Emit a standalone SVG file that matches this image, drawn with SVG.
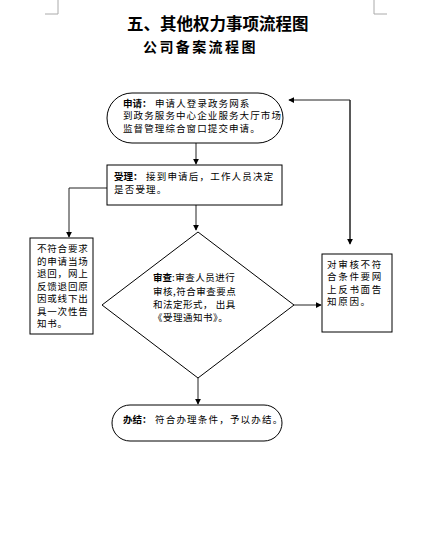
<svg xmlns="http://www.w3.org/2000/svg" width="427" height="545" viewBox="0 0 427 545">
<style>
.t{font-family:"Noto Sans CJK SC","Liberation Sans",sans-serif;font-size:9.5px;fill:#000}
.b{font-weight:bold}
.shape{fill:#fff;stroke:#000;stroke-width:1}
.con{fill:none;stroke:#222;stroke-width:1}
.mark{fill:none;stroke:#aaa;stroke-width:1}
</style>
<defs>
<marker id="ah" viewBox="0 0 8 8" refX="7" refY="4" markerWidth="6" markerHeight="6" orient="auto" markerUnits="userSpaceOnUse">
<path d="M0,0 L8,4 L0,8 z" fill="#000"/>
</marker>
</defs>
<rect width="427" height="545" fill="#fff"/>
<path class="mark" d="M58,0 V14 H45 M374,0 V14 H387"/>
<text x="127" y="30" font-family="'Noto Sans CJK SC',sans-serif" font-size="16.5" font-weight="bold">五、其他权力事项流程图</text>
<text x="143" y="52" font-family="'Noto Sans CJK SC',sans-serif" font-size="14" font-weight="bold" letter-spacing="2.4">公司备案流程图</text>

<g id="connectors">
<line class="con" x1="196" y1="143" x2="196" y2="164" marker-end="url(#ah)"/>
<line class="con" x1="196" y1="205" x2="196" y2="230" marker-end="url(#ah)"/>
<polyline class="con" points="107,188 69,188 69,237" marker-end="url(#ah)"/>
<line class="con" x1="294" y1="305" x2="321" y2="305" marker-end="url(#ah)"/>
<polyline class="con" points="350,243 350,100 289,100" marker-end="url(#ah)"/>
<line class="con" x1="350" y1="100" x2="350" y2="244" marker-end="url(#ah)"/>
<line class="con" x1="198" y1="378" x2="198" y2="404" marker-end="url(#ah)"/>
</g>

<g id="apply">
<rect class="shape" x="107" y="93" width="176" height="50" rx="25" ry="25"/>
<text class="t b" x="123" y="106.5">申请：</text>
<text class="t" x="155" y="106.5" letter-spacing="1.1">申请人登录政务网系</text>
<text class="t" x="123" y="119" letter-spacing="1.1">到政务服务中心企业服务大厅市场</text>
<text class="t" x="123" y="131.5" letter-spacing="1.1">监督管理综合窗口提交申请。</text>
</g>

<g id="accept">
<rect class="shape" x="107" y="165" width="175" height="40"/>
<text class="t b" x="114" y="180">受理：</text>
<text class="t" x="146" y="180" letter-spacing="1.2">接到申请后，工作人员决定</text>
<text class="t" x="114" y="192.5" letter-spacing="1.2">是否受理。</text>
</g>

<g id="reject">
<rect class="shape" x="30" y="238" width="63" height="96"/>
<text class="t" x="37" y="252" letter-spacing="0.8">不符合要求</text>
<text class="t" x="37" y="264.5" letter-spacing="0.8">的申请当场</text>
<text class="t" x="37" y="277" letter-spacing="0.8">退回，网上</text>
<text class="t" x="37" y="289.5" letter-spacing="0.8">反馈退回原</text>
<text class="t" x="37" y="302" letter-spacing="0.8">因或线下出</text>
<text class="t" x="37" y="314.5" letter-spacing="0.8">具一次性告</text>
<text class="t" x="37" y="327" letter-spacing="0.8">知书。</text>
</g>

<g id="review">
<polygon class="shape" points="198,232 294,305 198,378 102,305"/>
<text class="t b" x="153" y="281">审查</text>
<text class="t" x="172" y="281" letter-spacing="0.5">:审查人员进行</text>
<text class="t" x="153" y="295" letter-spacing="0.5">审核,符合审查要点</text>
<text class="t" x="153" y="308" letter-spacing="0.5">和法定形式， 出具</text>
<text class="t" x="153" y="321" letter-spacing="0.5">《受理通知书》。</text>
</g>

<g id="notify">
<rect class="shape" x="322" y="254" width="70" height="78"/>
<text class="t" x="327" y="267.5" letter-spacing="1.7">对审核不符</text>
<text class="t" x="327" y="280" letter-spacing="1.7">合条件要网</text>
<text class="t" x="327" y="292.5" letter-spacing="1.7">上反书面告</text>
<text class="t" x="327" y="305" letter-spacing="1.7">知原因。</text>
</g>

<g id="finish">
<rect class="shape" x="112" y="405" width="170" height="36" rx="18" ry="18"/>
<text class="t b" x="123" y="423">办结：</text>
<text class="t" x="155" y="423" letter-spacing="1.2">符合办理条件，予以办结。</text>
</g>
</svg>
